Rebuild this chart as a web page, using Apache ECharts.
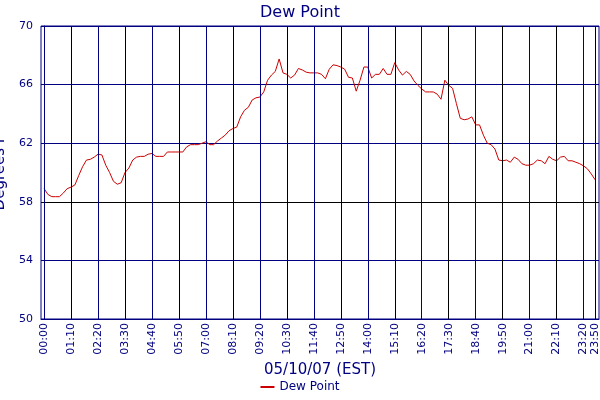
<!DOCTYPE html>
<html><head><meta charset="utf-8">
<script src="https://cdn.jsdelivr.net/npm/echarts@6/dist/echarts.min.js"></script>
<style>html,body{margin:0;padding:0;background:#fff}#c{width:600px;height:400px}</style>
</head><body><div id="c"></div>
<script>
const minutes = [];
for (let t = 0; t <= 1430; t += 10) minutes.push(t);
const dewPoint = [58.9,58.5,58.35,58.35,58.35,58.6,58.9,59.0,59.15,59.8,60.4,60.85,60.9,61.05,61.25,61.2,60.5,60.0,59.4,59.2,
59.3,60.0,60.3,60.85,61.05,61.1,61.1,61.25,61.3,61.1,61.1,61.1,61.4,61.4,61.4,61.4,61.4,61.75,61.9,61.9,
61.9,62.0,62.1,61.9,61.9,62.15,62.35,62.55,62.85,63.0,63.1,63.8,64.25,64.45,64.95,65.1,65.15,65.5,66.3,66.65,
66.9,67.75,66.8,66.7,66.45,66.65,67.1,67.0,66.85,66.8,66.8,66.8,66.7,66.4,67.05,67.35,67.3,67.2,67.05,66.5,
66.45,65.55,66.3,67.2,67.2,66.45,66.7,66.7,67.1,66.7,66.7,67.5,67.0,66.65,66.9,66.7,66.25,65.95,65.7,65.5,
65.5,65.5,65.35,65.0,66.3,65.95,65.75,64.7,63.7,63.6,63.65,63.8,63.25,63.25,62.55,62.0,61.9,61.6,60.85,60.8,
60.85,60.7,61.05,60.9,60.6,60.5,60.5,60.6,60.85,60.8,60.6,61.1,60.9,60.8,61.05,61.1,60.8,60.8,60.7,60.6,
60.45,60.25,59.9,59.5];
const tickMinutes = [0,70,140,210,280,350,420,490,560,630,700,770,840,910,980,1050,1120,1190,1260,1330,1400,1430];
function fmt(m){const h=Math.floor(m/60),mm=m%60;return String(h).padStart(2,'0')+':'+String(mm).padStart(2,'0');}
const navy = '#000080';
const vLines = tickMinutes.map((m,i)=>({xAxis:m,lineStyle:{color:i%2?'#000000':navy,width:1,type:'solid'}}));
const chart = echarts.init(document.getElementById('c'));
chart.setOption({
  animation:false,
  textStyle:{fontFamily:'DejaVu Sans'},
  title:{text:'Dew Point',left:'center',top:0,textStyle:{color:navy,fontSize:16,fontWeight:'normal'}},
  grid:{left:41,right:1,top:26,bottom:81,show:true,borderColor:navy,borderWidth:1,containLabel:false,outerBoundsMode:'none'},
  legend:{bottom:2,left:'center',itemWidth:14,itemHeight:2,icon:'rect',textStyle:{color:navy,fontSize:12},data:['Dew Point']},
  xAxis:{type:'value',min:-8,max:1440,name:'05/10/07 (EST)',nameLocation:'middle',nameGap:44,
    nameTextStyle:{color:navy,fontSize:15},
    axisLine:{lineStyle:{color:navy}},axisTick:{show:false},splitLine:{show:false},
    axisLabel:{customValues:tickMinutes,rotate:90,color:navy,fontSize:11,formatter:v=>fmt(v),margin:4}},
  yAxis:{type:'value',min:50,max:70,interval:4,name:'Degrees F',nameLocation:'middle',nameGap:32,
    nameTextStyle:{color:navy,fontSize:15},
    axisLine:{show:true,lineStyle:{color:navy}},axisTick:{show:false},
    axisLabel:{color:navy,fontSize:11,margin:8},
    splitLine:{lineStyle:{color:[navy,navy,'#000000',navy,navy,navy]}}},
  series:[{name:'Dew Point',type:'line',data:minutes.map((m,i)=>[m,dewPoint[i]]),showSymbol:false,
    lineStyle:{color:'#cc0000',width:1},itemStyle:{color:'#cc0000'},
    markLine:{silent:true,symbol:'none',label:{show:false},data:vLines}}]
});
</script></body></html>
